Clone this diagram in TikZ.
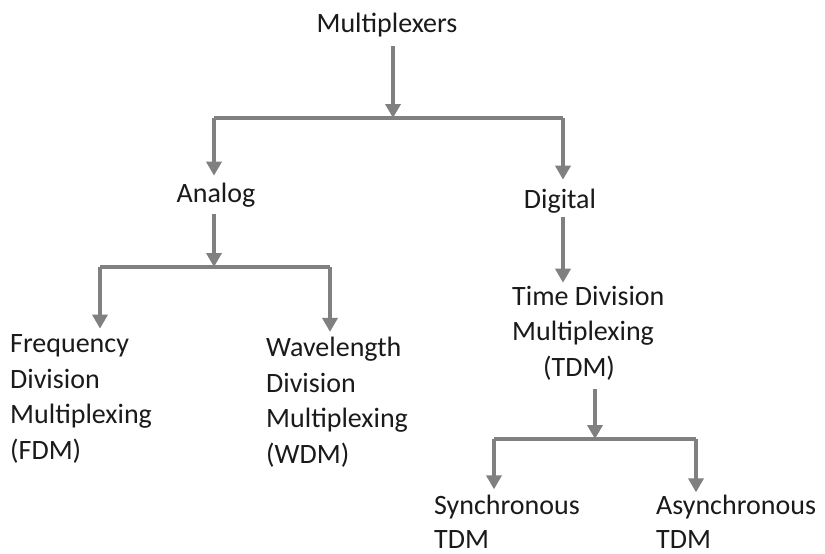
\documentclass[tikz,border=0pt]{standalone}
\usepackage{fontspec}
\setmainfont{Carlito}
\usetikzlibrary{arrows.meta}
\definecolor{txt}{HTML}{1A1A1A}
\definecolor{conn}{HTML}{808080}
\tikzset{
  lbl/.style={font=\fontsize{28}{35.5}\selectfont, text=txt, inner sep=0pt},
  line/.style={draw=conn, line width=3.5pt},
  arr/.style={line, -{Triangle[width=15pt,length=14pt]}},
}
\begin{document}
\begin{tikzpicture}[x=1pt,y=-1pt]
\useasboundingbox[fill=white] (0,0) rectangle (825,554);
% nodes
\node[lbl] (mux) at (387,25) {Multiplexers};
\node[lbl] (analog) at (216,195) {Analog};
\node[lbl] (digital) at (560,201) {Digital};
\node[lbl, anchor=west, align=left] (fdm) at (10,399) {Frequency\\Division\\Multiplexing\\(FDM)};
\node[lbl, anchor=west, align=left] (wdm) at (266,402) {Wavelength\\Division\\Multiplexing\\(WDM)};
\node[lbl, anchor=west, align=left] (tdm) at (512,333) {Time Division\\Multiplexing\\\hspace*{31pt}(TDM)};
\node[lbl, anchor=west, align=left, font=\fontsize{28}{33.5}\selectfont] (sync) at (434,522) {Synchronous\\TDM};
\node[lbl, anchor=west, align=left, font=\fontsize{28}{33.5}\selectfont] (async) at (656,522) {Asynchronous\\TDM};
% junctions
\coordinate (j1) at (393,118);
\coordinate (j1l) at (214,118);
\coordinate (j1r) at (563,118);
\coordinate (j2) at (214,267);
\coordinate (j2l) at (100,267);
\coordinate (j2r) at (330,267);
\coordinate (j3) at (595,439);
\coordinate (j3l) at (494,439);
\coordinate (j3r) at (696,439);
% connectors
\draw[arr, shorten <=9pt] (mux.south -| j1) -- (j1);
\draw[line] (j1l) -- (j1r);
\draw[arr, shorten >=7pt] (j1l) -- (j1l |- analog.north);
\draw[arr, shorten >=9pt] (j1r) -- (j1r |- digital.north);
\draw[arr, shorten <=7pt] (analog.south -| j2) -- (j2);
\draw[line] (j2l) -- (j2r);
\draw[arr, shorten >=6pt] (j2l) -- (j2l |- fdm.north);
\draw[arr, shorten >=5pt] (j2r) -- (j2r |- wdm.north);
\draw[arr, shorten <=4pt, shorten >=3pt] (digital.south -| j1r) -- (tdm.north -| j1r);
\draw[arr, shorten <=9pt] (tdm.south -| j3) -- (j3);
\draw[line] (j3l) -- (j3r);
\draw[arr, shorten >=6pt] (j3l) -- (j3l |- sync.north);
\draw[arr, shorten >=3pt] (j3r) -- (j3r |- async.north);
\end{tikzpicture}
\end{document}
